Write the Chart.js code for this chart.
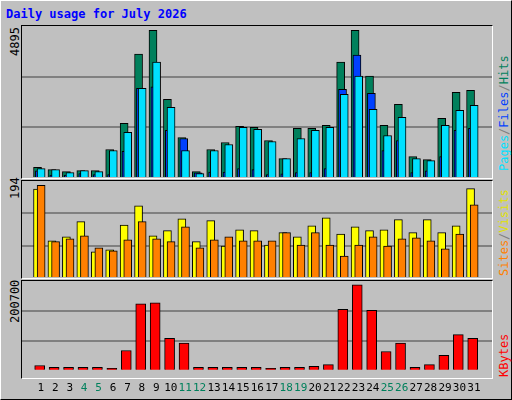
<!DOCTYPE html>
<html>
<head>
<meta charset="utf-8">
<script src="https://cdn.jsdelivr.net/npm/chart.js@4"></script>
<style>
  body { margin: 0; background: #fff; }
  #frame { position: relative; width: 510px; height: 398px; background: #c0c0c0;
    border-top: 1px solid #fff; border-left: 1px solid #fff;
    border-right: 1px solid #000; border-bottom: 1px solid #000;
    font-family: "DejaVu Sans Mono", monospace; }
  .panel { position: absolute; left: 21px; width: 470px; }
  .box { position: absolute; left: 20px; width: 470px; border: 1px solid #000;
    border-right-color: #fff; border-bottom-color: #fff; }
  .vlab { position: absolute; font-size: 12px; white-space: nowrap;
    transform-origin: 0 0; transform: rotate(-90deg); }
  #title { position: absolute; left: 5px; top: 6px; color: #0000ff; font-weight: bold; font-size: 12px; }
</style>
</head>
<body>
<div id="frame">
  <div id="title">Daily usage for July 2026</div>
  <div class="box" style="top:24px;height:152px"></div>
  <div class="box" style="top:179px;height:97px"></div>
  <div class="box" style="top:279px;height:97px"></div>
  <div class="panel" style="top:25px;height:152px"><canvas id="top"></canvas></div>
  <div class="panel" style="top:180px;height:97px"><canvas id="mid"></canvas></div>
  <div class="panel" style="top:280px;height:117px"><canvas id="bot"></canvas></div>
  <div class="vlab" style="left:7px;top:55px">4895</div>
  <div class="vlab" style="left:7px;top:198px">194</div>
  <div class="vlab" style="left:7px;top:322px">200700</div>
  <div class="vlab" style="left:496px;top:170px"><span style="color:#00e0ff">Pages</span><span style="color:#808080">/</span><span style="color:#0040ff">Files</span><span style="color:#808080">/</span><span style="color:#00805c">Hits</span></div>
  <div class="vlab" style="left:496px;top:275px"><span style="color:#ff8000">Sites</span><span style="color:#808080">/</span><span style="color:#e0e000">Visits</span></div>
  <div class="vlab" style="left:496px;top:376px"><span style="color:#ff0000">KBytes</span></div>
</div>
<script>
const days = Array.from({length: 31}, (_, i) => i + 1);
const weekends = [4, 5, 11, 12, 18, 19, 25, 26];

const hits   = [355, 277, 211, 244, 244, 944, 1810, 4107, 4895, 2610, 1343, 211, 944, 1177, 1710, 1676,
                1243, 644, 1643, 1643, 1743, 3840, 4895, 3374, 1743, 2442, 710, 610, 1976, 2842, 2908];
const files  = [240, 100, 100, 150, 110, 111, 888, 2975, 3020, 1576, 1310, 170, 200, 200, 311, 280,
                110, 140, 180, 180, 311, 2942, 4074, 2808, 910, 1243, 180, 240, 710, 1576, 1643];
const pages  = [310, 277, 178, 244, 211, 910, 1510, 2975, 3840, 2342, 910, 144, 910, 1110, 1676, 1610,
                1210, 644, 1310, 1576, 1676, 2775, 3374, 2276, 1410, 2009, 644, 577, 1743, 2242, 2409];
const visits = [186, 78, 86, 118, 55, 59, 111, 151, 88, 99, 124, 76, 120, 67, 101, 99,
                69, 95, 86, 109, 126, 92, 107, 99, 101, 122, 95, 122, 95, 109, 187];
const sites  = [194, 76, 82, 88, 63, 57, 80, 118, 82, 76, 107, 63, 80, 86, 78, 78,
                78, 95, 69, 95, 69, 46, 69, 86, 67, 82, 84, 78, 61, 92, 153];
const kbytes = [12360, 8000, 8000, 8000, 8000, 5800, 47250, 156300, 158500, 75600, 64700, 8000, 8000, 8000, 8000, 8000,
                5800, 8000, 8000, 10180, 14540, 143200, 200700, 141000, 45100, 64700, 8000, 14540, 36350, 84300, 75600];

const topMax = 5038, midMax = 203, botMax = 209430;

const pts = (vals, off) => vals.map((v, i) => ({ x: days[i] + off, y: v }));
const bar = (label, vals, off, color, w, order) => ({
  label, data: pts(vals, off), backgroundColor: color, borderColor: '#000', order,
  borderWidth: 1, barThickness: w, grouped: false, borderSkipped: 'bottom'
});

function makeOpts(max, showX) {
  return {
    responsive: true,
    maintainAspectRatio: false,
    animation: false,
    layout: { padding: 0 },
    plugins: { legend: { display: false }, tooltip: { enabled: false } },
    scales: {
      x: {
        type: 'linear', min: 0.22, max: 31.73, display: showX,
        grid: { display: false }, border: { display: false },
        afterBuildTicks: ax => { ax.ticks = days.map(d => ({ value: d })); },
        ticks: {
          padding: 3, autoSkip: false, maxRotation: 0,
          font: { family: 'DejaVu Sans Mono', size: 11 },
          color: c => weekends.includes(c.tick.value) ? '#00805c' : '#000',
          callback: v => v
        }
      },
      y: {
        min: 0, max,
        afterBuildTicks: ax => { ax.ticks = [0, max / 3, 2 * max / 3, max].map(v => ({ value: v })); },
        ticks: { display: false, padding: 0 },
        border: { display: false },
        grid: {
          drawTicks: false, lineWidth: 2,
          color: c => (c.index === 1 || c.index === 2) ? '#808080' : 'rgba(0,0,0,0)'
        }
      }
    }
  };
}

new Chart(document.getElementById('top'), {
  type: 'bar',
  data: { datasets: [
    bar('Hits', hits, -0.23, '#00805c', 8, 3),
    bar('Files', files, -0.1, '#0040ff', 8, 2),
    bar('Pages', pages, 0.02, '#00e0ff', 8, 1)
  ] },
  options: makeOpts(topMax, false)
});

new Chart(document.getElementById('mid'), {
  type: 'bar',
  data: { datasets: [
    bar('Visits', visits, -0.23, '#ffff00', 8, 2),
    bar('Sites', sites, 0.02, '#ff8000', 8, 1)
  ] },
  options: makeOpts(midMax, false)
});

new Chart(document.getElementById('bot'), {
  type: 'bar',
  data: { datasets: [bar('KBytes', kbytes, -0.08, '#ff0000', 10, 1)] },
  options: makeOpts(botMax, true)
});
</script>
</body>
</html>
